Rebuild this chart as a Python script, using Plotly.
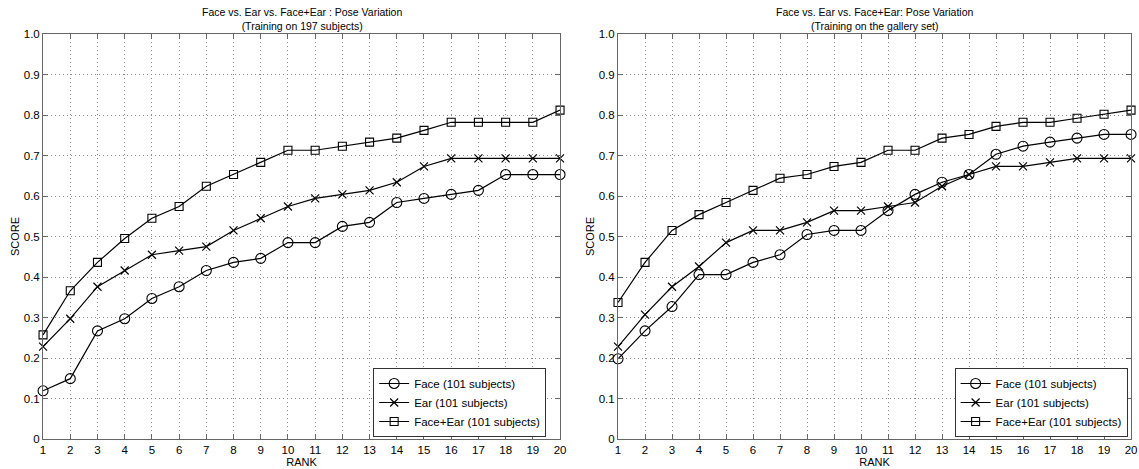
import plotly.graph_objects as go

rank = list(range(1, 21))
y_ticks = [0, 0.1, 0.2, 0.3, 0.4, 0.5, 0.6, 0.7, 0.8, 0.9, 1.0]
y_tick_labels = ["0", "0.1", "0.2", "0.3", "0.4", "0.5", "0.6", "0.7", "0.8", "0.9", "1.0"]

# Left panel: Training on 197 subjects
left_face = [0.119, 0.149, 0.267, 0.297, 0.347, 0.376, 0.416, 0.436, 0.446, 0.485,
             0.485, 0.525, 0.535, 0.584, 0.594, 0.604, 0.614, 0.653, 0.653, 0.653]
left_ear = [0.228, 0.297, 0.376, 0.416, 0.455, 0.465, 0.475, 0.515, 0.545, 0.574,
            0.594, 0.604, 0.614, 0.634, 0.673, 0.693, 0.693, 0.693, 0.693, 0.693]
left_faceear = [0.257, 0.366, 0.436, 0.495, 0.545, 0.574, 0.624, 0.653, 0.683, 0.713,
                0.713, 0.723, 0.733, 0.743, 0.762, 0.782, 0.782, 0.782, 0.782, 0.812]

# Right panel: Training on the gallery set
right_face = [0.198, 0.267, 0.327, 0.406, 0.406, 0.436, 0.455, 0.505, 0.515, 0.515,
              0.564, 0.604, 0.634, 0.653, 0.703, 0.723, 0.733, 0.743, 0.752, 0.752]
right_ear = [0.228, 0.307, 0.376, 0.426, 0.485, 0.515, 0.515, 0.535, 0.564, 0.564,
             0.574, 0.584, 0.624, 0.653, 0.673, 0.673, 0.683, 0.693, 0.693, 0.693]
right_faceear = [0.337, 0.436, 0.515, 0.554, 0.584, 0.614, 0.644, 0.653, 0.673, 0.683,
                 0.713, 0.713, 0.743, 0.752, 0.772, 0.782, 0.782, 0.792, 0.802, 0.812]

series_names = ["Face (101 subjects)", "Ear (101 subjects)", "Face+Ear (101 subjects)"]
titles = ["Face vs. Ear vs. Face+Ear : Pose Variation<br>(Training on 197 subjects)",
          "Face vs. Ear vs. Face+Ear: Pose Variation<br>(Training on the gallery set)"]

FONT = "Liberation Sans, Arial, Helvetica, sans-serif"
markers = [
    dict(symbol="circle-open", size=10, color="black", line=dict(width=1.1, color="black")),
    dict(symbol="x-thin", size=8, color="black", line=dict(width=1.2, color="black")),
    dict(symbol="square-open", size=8, color="black", line=dict(width=1.1, color="black")),
]

fig = go.Figure()
panels = [
    ("x", "y", "legend", [left_face, left_ear, left_faceear]),
    ("x2", "y2", "legend2", [right_face, right_ear, right_faceear]),
]
for xa, ya, lg, data in panels:
    for name, vals, mk in zip(series_names, data, markers):
        fig.add_trace(go.Scatter(
            x=rank, y=vals, mode="lines+markers", name=name,
            line=dict(color="black", width=1.2), marker=mk,
            xaxis=xa, yaxis=ya, legend=lg, showlegend=True, cliponaxis=False,
        ))

axis_common = dict(
    showline=True, linecolor="#666", linewidth=1, mirror="ticks",
    ticks="inside", ticklen=5, tickcolor="#666",
    showgrid=True, gridcolor="#8a8a8a", griddash="1px,3px", gridwidth=1,
    zeroline=False, automargin=False,
    tickfont=dict(size=11.5, color="black", family=FONT),
)

xdom1 = [0.0378, 0.4917]
xdom2 = [0.5426, 0.993]

fig.update_layout(
    width=1139, height=469,
    margin=dict(l=0, r=0, t=34, b=30, autoexpand=False),
    paper_bgcolor="white", plot_bgcolor="white",
    font=dict(family=FONT, color="black", size=12),
    xaxis=dict(domain=xdom1, range=[1, 20], tickmode="array", tickvals=rank,
               title=dict(text="RANK", standoff=0, font=dict(size=11)), anchor="y", **axis_common),
    yaxis=dict(domain=[0, 1], range=[0, 1], tickmode="array", tickvals=y_ticks,
               ticktext=y_tick_labels, title=dict(text="SCORE", standoff=1, font=dict(size=11)),
               anchor="x", **axis_common),
    xaxis2=dict(domain=xdom2, range=[1, 20], tickmode="array", tickvals=rank,
                title=dict(text="RANK", standoff=0, font=dict(size=11)), anchor="y2", **axis_common),
    yaxis2=dict(domain=[0, 1], range=[0, 1], tickmode="array", tickvals=y_ticks,
                ticktext=y_tick_labels, title=dict(text="SCORE", standoff=1, font=dict(size=11)),
                anchor="x2", **axis_common),
    legend=dict(x=0.4795, y=0.005, xanchor="right", yanchor="bottom",
                bgcolor="white", bordercolor="#333", borderwidth=1,
                font=dict(size=11.5, family=FONT), tracegroupgap=0, itemwidth=30),
    legend2=dict(x=0.990, y=0.005, xanchor="right", yanchor="bottom",
                 bgcolor="white", bordercolor="#333", borderwidth=1,
                 font=dict(size=11.5, family=FONT), tracegroupgap=0, itemwidth=30),
)

for dom, t in zip([xdom1, xdom2], titles):
    fig.add_annotation(text=t, x=(dom[0] + dom[1]) / 2, y=(405 + 30) / 405, xref="paper", yref="paper",
                       xanchor="center", yanchor="top", showarrow=False,
                       font=dict(size=10.5, family=FONT, color="black"))

fig.write_html("out.html", config={"displayModeBar": False},
               post_script="document.body.style.margin='0';document.body.style.overflow='hidden';")
